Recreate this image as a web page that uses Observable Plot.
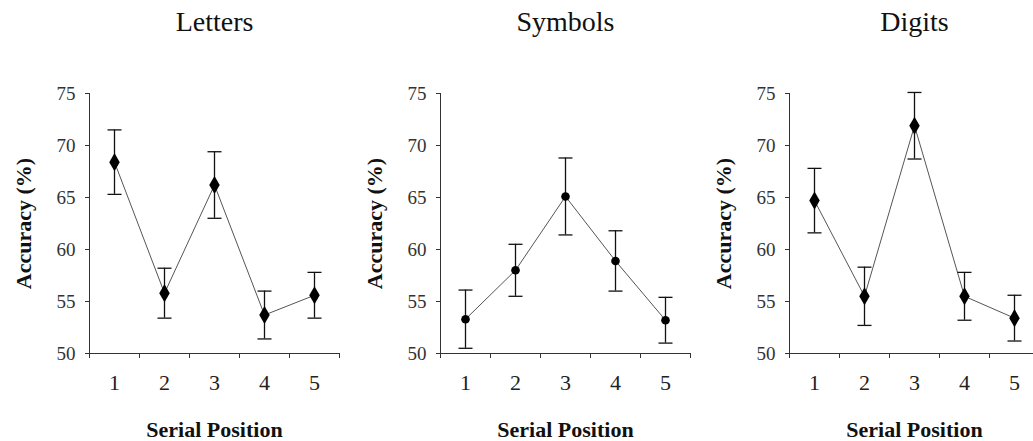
<!DOCTYPE html>
<html>
<head>
<meta charset="utf-8">
<script src="https://cdn.jsdelivr.net/npm/d3@7"></script>
<script src="https://cdn.jsdelivr.net/npm/@observablehq/plot@0.6"></script>
<style>
  html, body { margin: 0; padding: 0; background: #fff; overflow: hidden; }
  #wrap { position: relative; width: 1033px; height: 441px; overflow: hidden; }
  .panel { position: absolute; top: 0; }
</style>
</head>
<body>
<div id="wrap"></div>
<script>
// ---- data ----
const positions = [1, 2, 3, 4, 5];
const panelTitles = ["Letters", "Symbols", "Digits"];
const letters = [68.4, 55.8, 66.2, 53.7, 55.6];
const lettersErr = [3.1, 2.4, 3.2, 2.3, 2.2];
const symbols = [53.3, 58.0, 65.1, 58.9, 53.2];
const symbolsErr = [2.8, 2.5, 3.7, 2.9, 2.2];
const digits = [64.7, 55.5, 71.9, 55.5, 53.4];
const digitsErr = [3.1, 2.8, 3.2, 2.3, 2.2];
const yTicks = [50, 55, 60, 65, 70, 75];
const xLabel = "Serial Position";
const yLabel = "Accuracy (%)";

const series = [
  {title: panelTitles[0], values: letters, errs: lettersErr, symbol: "diamond", r: 5.5},
  {title: panelTitles[1], values: symbols, errs: symbolsErr, symbol: "circle", r: 4.3},
  {title: panelTitles[2], values: digits, errs: digitsErr, symbol: "diamond", r: 5.5}
];
const lefts = [0, 351, 700];

const capSymbol = {
  draw(context, size) {
    const w = Math.sqrt(size / Math.PI);
    context.moveTo(-w, 0);
    context.lineTo(w, 0);
  }
};

const serif = "'Liberation Serif', 'DejaVu Serif', serif";
const wrap = document.getElementById("wrap");

series.forEach((s, i) => {
  const data = positions.map((p, j) => ({
    pos: p, v: s.values[j], lo: s.values[j] - s.errs[j], hi: s.values[j] + s.errs[j]
  }));
  const boundaries = d3.range(0.5, positions.length + 1, 1);
  const chart = Plot.plot({
    width: 345,
    height: 441,
    marginLeft: 89,
    marginRight: 6,
    marginTop: 93,
    marginBottom: 88,
    style: {fontFamily: serif, background: "white", color: "#222", overflow: "visible"},
    x: {type: "linear", domain: [0.5, positions.length + 0.5]},
    y: {domain: [50, 75]},
    marks: [
      // axis lines
      Plot.ruleX([0.5], {stroke: "#333", strokeWidth: 1}),
      Plot.ruleY([50], {stroke: "#333", strokeWidth: 1}),
      // y axis ticks & labels
      Plot.axisY({ticks: yTicks, tickSize: 4, tickPadding: 10, label: null, fontSize: 19, fontFamily: serif, stroke: "#333", fill: "#333"}),
      // x axis boundary ticks
      Plot.axisX({ticks: boundaries, tickSize: 5, tickFormat: () => "", label: null, stroke: "#333"}),
      // x axis category labels
      Plot.axisX({ticks: positions, tickSize: 0, tickPadding: 21, tickFormat: d3.format("d"), label: null, fontSize: 22, fontFamily: serif, fill: "#222"}),
      // connecting line
      Plot.line(data, {x: "pos", y: "v", stroke: "#555", strokeWidth: 1}),
      // error bars
      Plot.ruleX(data, {x: "pos", y1: "lo", y2: "hi", stroke: "#111", strokeWidth: 1.3}),
      Plot.dot(data, {x: "pos", y: "hi", symbol: capSymbol, r: 7, stroke: "#111", strokeWidth: 1.3, fill: "none"}),
      Plot.dot(data, {x: "pos", y: "lo", symbol: capSymbol, r: 7, stroke: "#111", strokeWidth: 1.3, fill: "none"}),
      // markers
      Plot.dot(data, {x: "pos", y: "v", symbol: s.symbol, r: s.r, fill: "#000", stroke: "none"}),
      // title
      Plot.text([s.title], {frameAnchor: "top", lineAnchor: "middle", dy: -71, fontSize: 28, fontFamily: serif, fill: "#111"}),
      // x label
      Plot.text([xLabel], {frameAnchor: "bottom", lineAnchor: "middle", dy: 76, fontSize: 22, fontWeight: "bold", fontFamily: serif, fill: "#111"}),
      // y label
      Plot.text([yLabel], {frameAnchor: "left", textAnchor: "middle", dx: -66, rotate: -90, fontSize: 22, fontWeight: "bold", fontFamily: serif, fill: "#111", letterSpacing: "1.5px"})
    ]
  });
  chart.classList.add("panel");
  chart.style.left = lefts[i] + "px";
  wrap.appendChild(chart);
});
</script>
</body>
</html>
